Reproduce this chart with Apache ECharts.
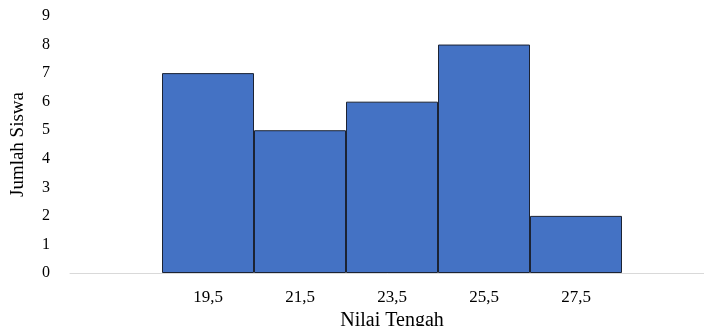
<!DOCTYPE html>
<html><head><meta charset="utf-8">
<script src="https://cdn.jsdelivr.net/npm/echarts@6/dist/echarts.min.js"></script>
<style>html,body{margin:0;padding:0;background:#fff}#c{width:704px;height:326px}</style>
</head><body><div id="c"></div>
<script>
const categories = ['', '19,5', '21,5', '23,5', '25,5', '27,5', ''];
const counts = [null, 7, 5, 6, 8, 2, null];
const yTicks = [0, 9, 1];
const chart = echarts.init(document.getElementById('c'));
const font = 'Liberation Serif';
chart.setOption({
  animation: false,
  grid: { left: 70, top: 16, bottom: 53, width: 644, outerBoundsMode: 'none', containLabel: false },
  xAxis: {
    type: 'category', data: categories,
    axisTick: { show: false },
    axisLine: { lineStyle: { color: '#d9d9d9', width: 1 } },
    axisLabel: { color: '#000', fontFamily: font, fontSize: 17, margin: 16 },
    name: 'Nilai Tengah', nameLocation: 'middle', nameGap: 38,
    nameTextStyle: { color: '#000', fontFamily: font, fontSize: 20 }
  },
  yAxis: {
    type: 'value', min: yTicks[0], max: yTicks[1], interval: yTicks[2],
    splitLine: { show: false }, axisLine: { show: false }, axisTick: { show: false },
    axisLabel: { color: '#000', fontFamily: font, fontSize: 16, margin: 20 },
    name: 'Jumlah Siswa', nameLocation: 'middle', nameGap: 42, nameRotate: 90,
    nameTextStyle: { color: '#000', fontFamily: font, fontSize: 19 }
  },
  series: [{
    type: 'bar', data: counts, barWidth: '100%', barCategoryGap: 0,
    itemStyle: { color: '#4472c4', borderColor: '#1c2333', borderWidth: 1 }
  }]
});
</script></body></html>
